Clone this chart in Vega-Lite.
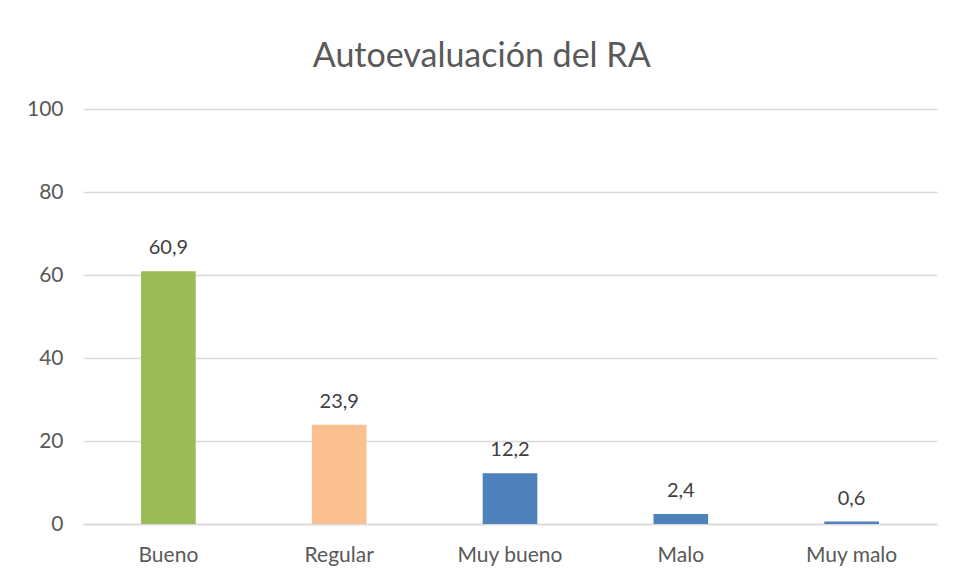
{
  "$schema": "https://vega.github.io/schema/vega-lite/v6.json",
  "width": 854,
  "height": 415,
  "autosize": {"type": "none"},
  "padding": {"left": 83, "top": 109, "right": 17, "bottom": 55},
  "background": "white",
  "config": {
    "locale": {"number": {"decimal": ",", "thousands": ".", "grouping": [3], "currency": ["", " €"]}},
    "view": {"stroke": null},
    "font": "Lato"
  },
  "title": {
    "text": "Autoevaluación del RA",
    "fontSize": 34,
    "fontWeight": "normal",
    "color": "#595959",
    "font": "Lato",
    "anchor": "middle",
    "frame": "bounds",
    "offset": 24
  },
  "data": {
    "values": [
      {"categoria": "Bueno", "valor": 60.9, "grupo": "Bueno"},
      {"categoria": "Regular", "valor": 23.9, "grupo": "Regular"},
      {"categoria": "Muy bueno", "valor": 12.2, "grupo": "Otro"},
      {"categoria": "Malo", "valor": 2.4, "grupo": "Otro"},
      {"categoria": "Muy malo", "valor": 0.6, "grupo": "Otro"}
    ]
  },
  "encoding": {
    "x": {
      "field": "categoria",
      "type": "nominal",
      "sort": null,
      "scale": {"paddingInner": 0.68, "paddingOuter": 0.34},
      "axis": {
        "title": null,
        "labelAngle": 0,
        "labelFontSize": 21,
        "labelColor": "#595959",
        "labelPadding": 20,
        "ticks": false,
        "domainColor": "#d9d9d9",
        "domainWidth": 1.5
      }
    },
    "y": {
      "field": "valor",
      "type": "quantitative",
      "scale": {"domain": [0, 100], "nice": false},
      "axis": {
        "title": null,
        "values": [0, 20, 40, 60, 80, 100],
        "labelFontSize": 21,
        "labelColor": "#595959",
        "labelPadding": 20,
        "ticks": false,
        "domain": false,
        "gridColor": "#d9d9d9",
        "gridWidth": 1.5
      }
    }
  },
  "layer": [
    {
      "mark": {"type": "bar"},
      "encoding": {
        "color": {
          "field": "grupo",
          "type": "nominal",
          "scale": {"domain": ["Bueno", "Regular", "Otro"], "range": ["#9BBB59", "#FAC090", "#4F81BD"]},
          "legend": null
        }
      }
    },
    {
      "mark": {"type": "text", "baseline": "alphabetic", "dy": -17, "fontSize": 20, "color": "#404040"},
      "encoding": {
        "text": {"field": "valor", "type": "quantitative", "format": ".1f"}
      }
    }
  ]
}
